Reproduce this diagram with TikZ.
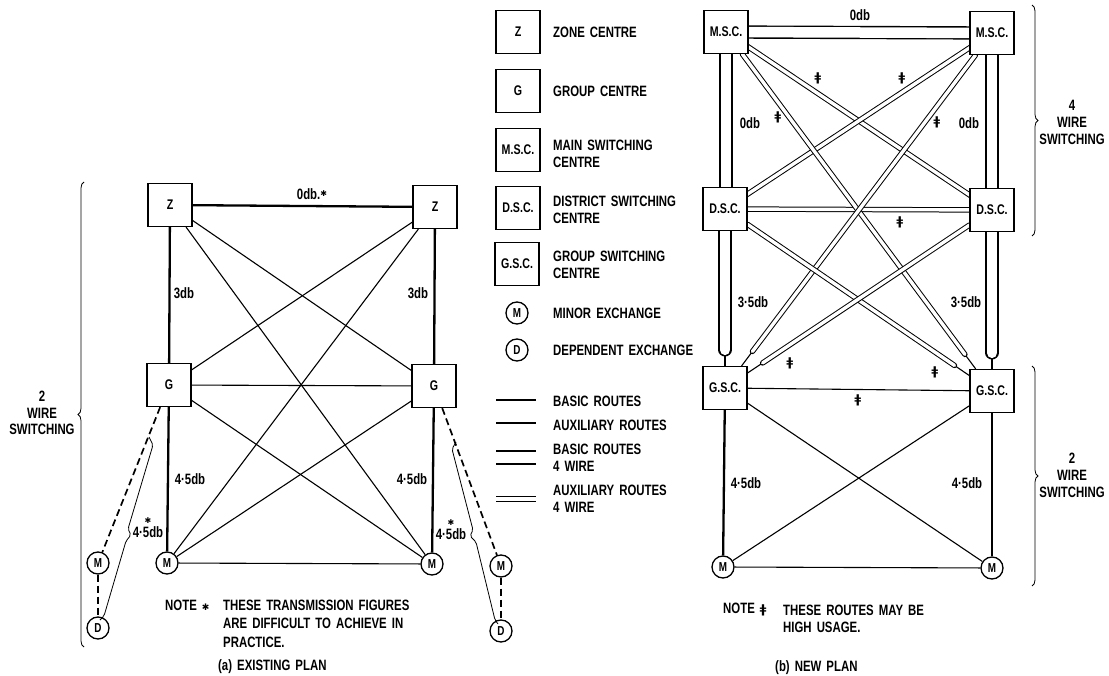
\documentclass[tikz,border=0pt]{standalone}
\usepackage{fontspec}
\setmainfont{Liberation Sans}[FakeStretch=0.76, WordSpace=1.6]
\newfontfamily\symf{DejaVu Sans}
\usetikzlibrary{calc,decorations.pathreplacing,backgrounds}
\begin{document}
\begin{tikzpicture}[x=1pt,y=-1pt,
 box/.style={draw, line width=1.3pt, fill=white, minimum width=44pt, minimum height=43pt, inner sep=0pt, font=\bfseries\fontsize{14}{15}\selectfont},
 exch/.style={circle, draw, line width=1.3pt, fill=white, minimum size=22pt, inner sep=0pt, font=\bfseries\fontsize{13}{14}\selectfont},
 basic/.style={line width=2.3pt},
 aux/.style={line width=1.1pt},
 basicfour/.style={double, line width=1.4pt, double distance=10.5pt, line cap=round},
 auxfour/.style={double, line width=1pt, double distance=3.4pt, line cap=round},
 dep/.style={line width=1.7pt, dash pattern=on 7pt off 4pt},
 lbl/.style={font=\bfseries\fontsize{15}{16}\selectfont, inner sep=0pt},
 txt/.style={font=\bfseries\fontsize{15}{17}\selectfont, anchor=west, align=left, inner sep=0pt},
 sw/.style={font=\bfseries\fontsize{15}{17}\selectfont, align=center, inner sep=0pt},
 hu/.style={font=\symf\bfseries\fontsize{12}{13}\selectfont, inner sep=0pt},
 brc/.style={decorate, decoration={brace, amplitude=6pt}, line width=0.8pt},
 thinbr/.style={line width=0.8pt, rounded corners=2pt},
 ]
\useasboundingbox (0,0) rectangle (1109,676);

% ---------- nodes: existing plan ----------
\node[box] (Z1) at (170,205) {Z};
\node[box] (Z2) at (435,207) {Z};
\node[box] (G1) at (169,385) {G};
\node[box] (G2) at (434,386) {G};
\node[exch] (M1) at (167,563) {M};
\node[exch] (M2) at (432,564) {M};
\node[exch] (MX1) at (98,563) {M};
\node[exch] (DX1) at (98,628) {D};
\node[exch] (MX2) at (501,566) {M};
\node[exch] (DX2) at (501,631) {D};

% ---------- nodes: new plan ----------
\node[box] (MSC1) at (726,32) {M.S.C.};
\node[box] (MSC2) at (992,33) {M.S.C.};
\node[box] (DSC1) at (725,209) {D.S.C.};
\node[box] (DSC2) at (992,210) {D.S.C.};
\node[box] (GSC1) at (725,388) {G.S.C.};
\node[box] (GSC2) at (992,391) {G.S.C.};
\node[exch] (MR1) at (723,567) {M};
\node[exch] (MR2) at (992,568) {M};

% ---------- legend ----------
\node[box] (LZ) at (518,32) {Z};
\node[box] (LG) at (518,91) {G};
\node[box] (LM) at (518,150) {M.S.C.};
\node[box] (LD) at (518,208) {D.S.C.};
\node[box] (LS) at (517,264) {G.S.C.};
\node[exch] (LMx) at (517,313) {M};
\node[exch] (LDx) at (517,350) {D};
\node[txt] (t1) at (553,32) {ZONE CENTRE};
\node[txt] (t2) at (553,91) {GROUP CENTRE};
\node[txt] (t3) at (553,154) {MAIN SWITCHING\\CENTRE};
\node[txt] (t4) at (553,210) {DISTRICT SWITCHING\\CENTRE};
\node[txt] (t5) at (553,265) {GROUP SWITCHING\\CENTRE};
\node[txt] (t6) at (553,313) {MINOR EXCHANGE};
\node[txt] (t7) at (553,350) {DEPENDENT EXCHANGE};
\node[txt] (t8) at (553,401) {BASIC ROUTES};
\node[txt] (t9) at (553,425) {AUXILIARY ROUTES};
\node[txt] (t10) at (553,458) {BASIC ROUTES\\4 WIRE};
\node[txt] (t11) at (553,499) {AUXILIARY ROUTES\\4 WIRE};
\coordinate (la1) at (496,400); \coordinate (lb1) at (536,400);
\coordinate (la2) at (496,423); \coordinate (lb2) at (536,423);
\coordinate (la3) at (496,457.5); \coordinate (lb3) at (536,457.5);
\coordinate (la4) at (496,499); \coordinate (lb4) at (536,499);
\draw[basic] (la1) -- (lb1);
\draw[aux] (la2) -- (lb2);
\draw[basicfour, line cap=butt, double distance=11.5pt] (la3) -- (lb3);
\draw[auxfour, line cap=butt] (la4) -- (lb4);

% ---------- labels ----------
\node[lbl] (l0) at (312,194) {0db.\raisebox{3pt}{\symf\fontsize{8}{8}\selectfont ✱}};
\node[lbl] (l1) at (184,293) {3db};
\node[lbl] (l2) at (418,293) {3db};
\node[lbl] (l3) at (190,479) {4·5db};
\node[lbl] (l4) at (412,479) {4·5db};
\node[lbl, align=center] (l5) at (148,528) {{\symf\fontsize{8}{8}\selectfont ✱}\\[-2pt]4·5db};
\node[lbl, align=center] (l6) at (451,530) {{\symf\fontsize{8}{8}\selectfont ✱}\\[-2pt]4·5db};

\node[lbl] (r0) at (860,15) {0db};
\node[lbl] (r1) at (750,123) {0db};
\node[lbl] (r2) at (969,123) {0db};
\node[lbl] (r3) at (753,302) {3·5db};
\node[lbl] (r4) at (966,302) {3·5db};
\node[lbl] (r5) at (746,483) {4·5db};
\node[lbl] (r6) at (967,483) {4·5db};

\node[hu] (h1) at (818,78) {ǂ};
\node[hu] (h2) at (778,117) {ǂ};
\node[hu] (h3) at (902,78) {ǂ};
\node[hu] (h4) at (937,122) {ǂ};
\node[hu] (h5) at (900,222) {ǂ};
\node[hu] (h6) at (935,372) {ǂ};
\node[hu] (h7) at (790,363) {ǂ};
\node[hu] (h8) at (858,400) {ǂ};

% ---------- notes and captions ----------
\node[txt] (n1) at (165,605) {NOTE {\symf\fontsize{9}{9}\selectfont ✱}};
\node[txt] (n2) at (223,605) {THESE TRANSMISSION FIGURES};
\node[txt] (n3) at (223,623) {ARE DIFFICULT TO ACHIEVE IN};
\node[txt] (n4) at (223,642) {PRACTICE.};
\node[txt] (cap1) at (218,667) {(a) EXISTING PLAN};
\node[txt] (n5) at (723,610) {NOTE {\symf\bfseries\fontsize{12}{12}\selectfont ǂ}};
\node[txt] (n6) at (783,610) {THESE ROUTES MAY BE};
\node[txt] (n7) at (783,627) {HIGH USAGE.};
\node[txt] (cap2) at (775,668) {(b) NEW PLAN};

% ---------- switching braces ----------
\node[sw] (w2l) at (42,413) {2\\[-0.5pt]WIRE\\[-0.5pt]SWITCHING};
\node[sw] (w4r) at (1072,122) {4\\WIRE\\SWITCHING};
\node[sw] (w2r) at (1072,475) {2\\WIRE\\SWITCHING};
\coordinate (bl1) at (84,647); \coordinate (bl2) at (84,182);
\coordinate (br1) at (1032,5); \coordinate (br2) at (1032,236);
\coordinate (br3) at (1032,366); \coordinate (br4) at (1032,586);
\draw[brc] (bl1) -- (bl2);
\draw[brc] (br1) -- (br2);
\draw[brc] (br3) -- (br4);

% small braces beside dashed routes
\draw[thinbr] (149,437) -- (153,445) -- (128,529) -- (131,535) -- (126,541) -- (104,616) -- (100,620);
\draw[thinbr] (456,442) -- (452,449) -- (473,530) -- (470,536) -- (476,542) -- (495,620) -- (498,624);

% ---------- connectors (behind the boxes) ----------
\begin{scope}[on background layer]
\fill[white] (0,0) rectangle (1109,676);
% existing plan
\draw[basic] (Z1) -- (Z2);
\draw[basic] (Z1) -- (G1);
\draw[basic] (Z2) -- (G2);
\draw[basic] (G1) -- (M1);
\draw[basic] (G2) -- (M2);
\draw[aux] (Z1) -- (G2);
\draw[aux] (Z1) -- (M2);
\draw[aux] (Z2) -- (G1);
\draw[aux] (Z2) -- (M1);
\draw[aux] (G1) -- (G2);
\draw[aux] (G1) -- (M2);
\draw[aux] (G2) -- (M1);
\draw[aux] (M1) -- (M2);
\draw[dep] (G1) -- (MX1);
\draw[dep] (MX1) -- (DX1);
\draw[dep] (G2) -- (MX2);
\draw[dep] (MX2) -- (DX2);
% new plan: stems under the 4-wire routes
\draw[aux] (DSC1.south) -- (DSC1.south |- GSC1.north);
\draw[aux] (DSC2.south) -- (DSC2.south |- GSC2.north);
\draw[aux] (MSC1) -- (GSC2);
\draw[aux] (MSC2) -- (GSC1);
\draw[aux] (DSC1) -- (GSC2);
\draw[aux] (DSC2) -- (GSC1);
% auxiliary 4-wire
\draw[auxfour] (MSC1.center) -- (DSC2.center);
\draw[auxfour] (MSC2.center) -- (DSC1.center);
\draw[auxfour] (DSC1.center) -- (DSC2.center);
\draw[auxfour, shorten >=18pt] (MSC1) -- (GSC2);
\draw[auxfour, shorten >=18pt] (MSC2) -- (GSC1);
\draw[auxfour, shorten >=18pt] (DSC1) -- (GSC2);
\draw[auxfour, shorten >=18pt] (DSC2) -- (GSC1);
% basic 4-wire
\draw[basicfour] (MSC1.center) -- (MSC2.center);
\draw[basicfour] (MSC1.center) -- (MSC1.center |- DSC1.center);
\draw[basicfour] (MSC2.center) -- (MSC2.center |- DSC2.center);
\draw[basicfour, shorten >=16pt] (DSC1.center) -- (DSC1.center |- GSC1.north);
\draw[basicfour, shorten >=16pt] (DSC2.center) -- (DSC2.center |- GSC2.north);
% 2-wire part
\draw[aux] (GSC1) -- (GSC2);
\draw[basic] (GSC1) -- (MR1);
\draw[basic] (GSC2) -- (MR2);
\draw[aux] (GSC1) -- (MR2);
\draw[aux] (GSC2) -- (MR1);
\draw[aux] (MR1) -- (MR2);
\end{scope}
\end{tikzpicture}
\end{document}
